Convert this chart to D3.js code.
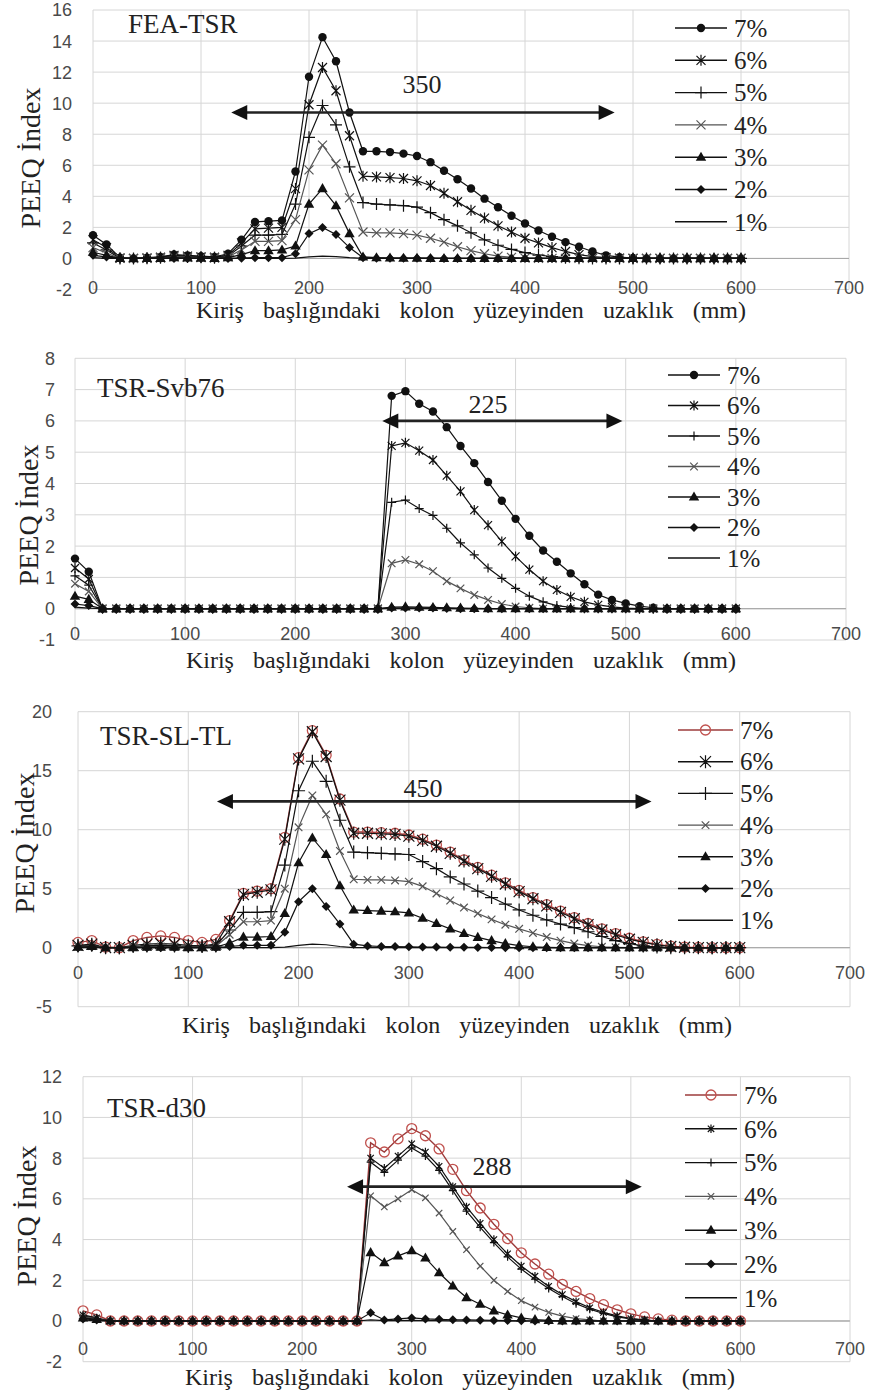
<!DOCTYPE html>
<html><head><meta charset="utf-8">
<script src="https://cdn.jsdelivr.net/npm/d3@7"></script>
<style>body{margin:0;background:#fff}svg{display:block}</style>
</head><body>
<svg id="chart" width="873" height="1396"></svg>
<script>
// ---------- DATA ----------
const distance = [0,12.5,25,37.5,50,62.5,75,87.5,100,112.5,125,137.5,150,162.5,175,187.5,200,212.5,225,237.5,250,262.5,275,287.5,300,312.5,325,337.5,350,362.5,375,387.5,400,412.5,425,437.5,450,462.5,475,487.5,500,512.5,525,537.5,550,562.5,575,587.5,600];
const seriesNames = ["7%","6%","5%","4%","3%","2%","1%"];
const xTickValues = [0,100,200,300,400,500,600,700];
const yTicksFea = [-2,0,2,4,6,8,10,12,14,16];
const yTicksSvb = [-1,0,1,2,3,4,5,6,7,8];
const yTicksSl = [-5,0,5,10,15,20];
const yTicksD30 = [-2,0,2,4,6,8,10,12];
const panelTitles = ["FEA-TSR","TSR-Svb76","TSR-SL-TL","TSR-d30"];
const spanLabels = ["350","225","450","288"];
const spanStart = [128,279,126,241];
const spanEnd = [483,497,520,510];
const spanLevel = [9.4,6.0,12.4,6.6];
const xAxisTitle = "Kiriş başlığındaki kolon yüzeyinden uzaklık (mm)";
const yAxisTitle = "PEEQ İndex";

// FEA-TSR
const feaTsr7 = [1.5,0.9,0.05,0,0.05,0.1,0.25,0.2,0.15,0.1,0.3, 1.2,2.35,2.4,2.45,5.6, 11.7,14.25,12.7,9.4,6.9, 6.9,6.85,6.75,6.6,6.2, 5.65,5.1,4.5,3.85,3.3, 2.75,2.25,1.8,1.4,1.05, 0.75,0.45,0.2,0.08,0.03, 0,0,0,0,0,0,0,0];
const feaTsr6 = [1.2,0.7,0.03,0,0.03,0.08,0.2,0.15,0.1,0.08,0.2, 1.0,1.9,1.95,2.0,4.5, 9.9,12.3,10.8,7.9,5.3, 5.25,5.2,5.15,5.0,4.7, 4.2,3.65,3.1,2.6,2.1, 1.7,1.3,1.0,0.7,0.45, 0.25,0.12,0.05,0.02,0, 0,0,0,0,0,0,0,0];
const feaTsr5 = [1.0,0.55,0,0,0.02,0.05,0.15,0.1,0.08,0.05,0.15, 0.8,1.5,1.5,1.55,3.5, 7.8,9.85,8.6,5.9,3.6, 3.5,3.45,3.4,3.3,2.95, 2.5,2.1,1.65,1.2,0.85, 0.58,0.38,0.22,0.12,0.05, 0.02,0,0,0,0, 0,0,0,0,0,0,0,0];
const feaTsr4 = [0.7,0.35,0,0,0,0.03,0.1,0.08,0.05,0.03,0.1, 0.55,1.1,1.1,1.15,2.5, 5.7,7.3,6.1,3.9,1.7, 1.65,1.65,1.6,1.5,1.3, 1.05,0.75,0.5,0.3,0.15, 0.07,0.02,0,0,0, 0,0,0,0,0, 0,0,0,0,0,0,0,0];
const feaTsr3 = [0.4,0.2,0,0,0,0,0.05,0.03,0.02,0,0.05, 0.25,0.5,0.5,0.55,0.8, 3.5,4.5,3.4,1.6,0.1, 0.05,0.03,0.02,0.02,0, 0,0,0,0,0, 0,0,0,0,0, 0,0,0,0,0, 0,0,0,0,0,0,0,0];
const feaTsr2 = [0.2,0.1,0,0,0,0,0,0,0,0,0, 0.02,0.05,0.05,0.05,0.3, 1.6,2.0,1.55,0.7,0.05, 0.02,0.02,0.02,0.02,0.02, 0,0,0,0,0, 0,0,0,0,0, 0,0,0,0,0, 0,0,0,0,0,0,0,0];
const feaTsr1 = [0.05,0,0,0,0,0,0,0,0,0,0, 0,0,0,0,0.02, 0.1,0.15,0.12,0.05,0, 0,0,0,0,0, 0,0,0,0,0, 0,0,0,0,0, 0,0,0,0,0, 0,0,0,0,0,0,0,0];

// TSR-Svb76
const svb76_7 = [1.6,1.18,0,0,0,0,0,0,0,0,0, 0,0,0,0,0, 0,0,0,0,0, 0,0,6.8,6.95,6.55, 6.3,5.8,5.2,4.65,4.05, 3.45,2.87,2.33,1.86,1.5, 1.13,0.78,0.45,0.28,0.17, 0.08,0.03,0,0,0,0,0,0];
const svb76_6 = [1.3,0.95,0,0,0,0,0,0,0,0,0, 0,0,0,0,0, 0,0,0,0,0, 0,0,5.2,5.3,5.05, 4.75,4.25,3.75,3.15,2.67, 2.15,1.67,1.25,0.88,0.6, 0.38,0.22,0.12,0.06,0.02, 0,0,0,0,0,0,0,0];
const svb76_5 = [1.05,0.75,0,0,0,0,0,0,0,0,0, 0,0,0,0,0, 0,0,0,0,0, 0,0,3.4,3.47,3.2, 2.98,2.57,2.1,1.72,1.3, 0.97,0.65,0.4,0.22,0.1, 0.04,0,0,0,0, 0,0,0,0,0,0,0,0];
const svb76_4 = [0.8,0.55,0,0,0,0,0,0,0,0,0, 0,0,0,0,0, 0,0,0,0,0, 0,0,1.45,1.56,1.42, 1.2,0.88,0.65,0.44,0.28, 0.15,0.07,0.03,0,0, 0,0,0,0,0, 0,0,0,0,0,0,0,0];
const svb76_3 = [0.4,0.3,0,0,0,0,0,0,0,0,0, 0,0,0,0,0, 0,0,0,0,0, 0,0,0.05,0.06,0.05, 0.04,0.03,0.02,0.01,0, 0,0,0,0,0, 0,0,0,0,0, 0,0,0,0,0,0,0,0];
const svb76_2 = [0.15,0.1,0,0,0,0,0,0,0,0,0, 0,0,0,0,0, 0,0,0,0,0, 0,0,0.02,0.02,0.02, 0.02,0.01,0,0,0, 0,0,0,0,0, 0,0,0,0,0, 0,0,0,0,0,0,0,0];
const svb76_1 = [0.05,0.02,0,0,0,0,0,0,0,0,0, 0,0,0,0,0, 0,0,0,0,0, 0,0,0,0,0, 0,0,0,0,0, 0,0,0,0,0, 0,0,0,0,0, 0,0,0,0,0,0,0,0];

// TSR-SL-TL
const slTl7 = [0.45,0.6,0.05,0,0.6,0.87,1.0,0.87,0.6,0.45,0.7, 2.3,4.6,4.8,5.0,9.35, 16.1,18.4,16.3,12.6,9.8, 9.8,9.75,9.7,9.55,9.2, 8.7,8.1,7.45,6.8,6.15, 5.5,4.85,4.25,3.65,3.1, 2.55,2.05,1.6,1.2,0.8, 0.5,0.28,0.13,0.05,0.02,0,0,0];
const slTl6 = [0.2,0.3,0.02,0,0.2,0.3,0.35,0.3,0.2,0.15,0.3, 2.2,4.5,4.7,4.9,9.2, 16.0,18.3,16.2,12.5,9.7, 9.7,9.65,9.6,9.45,9.1, 8.6,8.0,7.35,6.7,6.05, 5.4,4.75,4.15,3.55,3.0, 2.45,1.95,1.5,1.1,0.72, 0.45,0.24,0.1,0.04,0.01,0,0,0];
const slTl5 = [0.15,0.2,0,0,0.1,0.15,0.2,0.15,0.1,0.1,0.15, 1.5,3.0,3.0,3.05,7.0, 13.3,15.8,14.1,10.8,8.1, 8.05,8.0,7.95,7.9,7.3, 6.7,6.0,5.4,4.8,4.25, 3.7,3.2,2.75,2.35,2.0, 1.7,1.35,0.95,0.6,0.35, 0.15,0.05,0,0,0,0,0,0];
const slTl4 = [0.1,0.15,0,0,0.05,0.1,0.1,0.1,0.05,0.05,0.1, 1.1,2.2,2.2,2.3,5.0, 10.2,12.9,11.3,8.2,5.8, 5.75,5.75,5.7,5.6,5.2, 4.6,4.0,3.4,2.9,2.4, 1.95,1.6,1.25,0.9,0.6, 0.35,0.18,0.08,0.03,0, 0,0,0,0,0,0,0,0];
const slTl3 = [0.05,0.1,0,0,0,0.05,0.05,0.05,0,0,0.05, 0.4,0.9,0.9,0.95,2.9, 7.2,9.3,7.9,5.25,3.2, 3.15,3.1,3.05,2.95,2.5, 2.05,1.6,1.2,0.88,0.6, 0.35,0.18,0.08,0.03,0, 0,0,0,0,0, 0,0,0,0,0,0,0,0];
const slTl2 = [0,0.05,0,0,0,0,0,0,0,0,0, 0.1,0.2,0.2,0.2,1.3, 3.9,5.0,3.5,2.0,0.3, 0.15,0.1,0.1,0.08,0.06, 0.05,0.04,0.03,0.02,0.01, 0,0,0,0,0, 0,0,0,0,0, 0,0,0,0,0,0,0,0];
const slTl1 = [0,0,0,0,0,0,0,0,0,0,0, 0,0,0,0,0.05, 0.2,0.3,0.25,0.1,0, 0,0,0,0,0, 0,0,0,0,0, 0,0,0,0,0, 0,0,0,0,0, 0,0,0,0,0,0,0,0];

// TSR-d30
const d30_7 = [0.5,0.3,0,0,0,0,0,0,0,0,0, 0,0,0,0,0, 0,0,0,0,0, 8.75,8.3,8.95,9.45,9.1, 8.45,7.45,6.4,5.55,4.75, 4.05,3.35,2.8,2.3,1.8, 1.45,1.1,0.8,0.55,0.35, 0.2,0.1,0.04,0,0,0,0,0];
const d30_6 = [0.3,0.15,0,0,0,0,0,0,0,0,0, 0,0,0,0,0, 0,0,0,0,0, 8.0,7.5,8.1,8.7,8.3, 7.6,6.6,5.6,4.8,4.0, 3.3,2.7,2.2,1.7,1.3, 0.95,0.65,0.42,0.25,0.12, 0.05,0,0,0,0,0,0,0];
const d30_5 = [0.25,0.12,0,0,0,0,0,0,0,0,0, 0,0,0,0,0, 0,0,0,0,0, 7.8,7.3,7.9,8.5,8.1, 7.4,6.4,5.4,4.6,3.85, 3.15,2.55,2.05,1.6,1.2, 0.85,0.58,0.37,0.2,0.1, 0.04,0,0,0,0,0,0,0];
const d30_4 = [0.2,0.1,0,0,0,0,0,0,0,0,0, 0,0,0,0,0, 0,0,0,0,0, 6.15,5.6,6.0,6.45,6.05, 5.3,4.4,3.5,2.7,2.0, 1.45,1.0,0.68,0.42,0.24, 0.12,0.05,0,0,0, 0,0,0,0,0,0,0,0];
const d30_3 = [0.15,0.08,0,0,0,0,0,0,0,0,0, 0,0,0,0,0, 0,0,0,0,0, 3.36,2.87,3.2,3.45,3.1, 2.37,1.72,1.15,0.82,0.5, 0.3,0.15,0.07,0.03,0, 0,0,0,0,0, 0,0,0,0,0,0,0,0];
const d30_2 = [0.1,0.05,0,0,0,0,0,0,0,0,0, 0,0,0,0,0, 0,0,0,0,0, 0.4,0.05,0.1,0.15,0.1, 0.08,0.06,0.05,0.04,0.03, 0.02,0.01,0,0,0, 0,0,0,0,0, 0,0,0,0,0,0,0,0];
const d30_1 = [0.05,0,0,0,0,0,0,0,0,0,0, 0,0,0,0,0, 0,0,0,0,0, 0.05,0.02,0.02,0.03,0.02, 0.02,0.01,0,0,0, 0,0,0,0,0, 0,0,0,0,0, 0,0,0,0,0,0,0,0];

const panelSeries = [
  [feaTsr7,feaTsr6,feaTsr5,feaTsr4,feaTsr3,feaTsr2,feaTsr1],
  [svb76_7,svb76_6,svb76_5,svb76_4,svb76_3,svb76_2,svb76_1],
  [slTl7,slTl6,slTl5,slTl4,slTl3,slTl2,slTl1],
  [d30_7,d30_6,d30_5,d30_4,d30_3,d30_2,d30_1]
];
const panelYTicks = [yTicksFea, yTicksSvb, yTicksSl, yTicksD30];

// ---------- LAYOUT ----------
const layout = [
  {x0:93,x1:849,yTop:10,yBot:289.5,titleX:128,titleY:33,tickY:288,yLabR:72,yTitX:30,yTitY:158,xTitX:471,xTitY:318,legX:675,legY:28,legDy:32.3,legW:52,lblX:422,lblY:93,red:false,ms:{asterisk:4.5,plus:6,x:4.5}},
  {x0:75,x1:846,yTop:358.3,yBot:640,titleX:97,titleY:397,tickY:634,yLabR:55,yTitX:28,yTitY:515,xTitX:461,xTitY:668,legX:668,legY:375,legDy:30.5,legW:52,lblX:488,lblY:413,red:false,ms:{asterisk:4,plus:4.5,x:3.8}},
  {x0:78,x1:850,yTop:711.7,yBot:1006.7,titleX:100,titleY:745,tickY:973,yLabR:52,yTitX:24,yTitY:843,xTitX:457,xTitY:1033,legX:678,legY:730,legDy:31.7,legW:55,lblX:423,lblY:797,red:true,ms:{asterisk:5.5,plus:6.5,x:3.8}},
  {x0:83,x1:850,yTop:1076.7,yBot:1361.7,titleX:107,titleY:1117,tickY:1349,yLabR:62,yTitX:26,yTitY:1216,xTitX:460,xTitY:1385,legX:685,legY:1095,legDy:33.8,legW:52,lblX:492,lblY:1175,red:true,ms:{asterisk:3.2,plus:4,x:3.2}}
];

const SERIF = "'Liberation Serif','Times New Roman',serif";
const SANS = "'Liberation Sans',Arial,sans-serif";
const svg = d3.select("#chart");
svg.append("rect").attr("width",873).attr("height",1396).attr("fill","#fff");

const markerKind = ["circle","asterisk","plus","x","triangle","diamond","none"];
function markerPath(kind, ms){
  switch(kind){
    case "asterisk": {const r=ms.asterisk; return `M${-r},${-r}L${r},${r}M${-r},${r}L${r},${-r}M0,${-r-1}L0,${r+1}`;}
    case "plus": {const r=ms.plus; return `M${-r},0L${r},0M0,${-r}L0,${r}`;}
    case "x": {const r=ms.x; return `M${-r},${-r}L${r},${r}M${-r},${r}L${r},${-r}`;}
    case "triangle": {const r=5.5; return `M0,${-r}L${r*0.95},${r*0.65}L${-r*0.95},${r*0.65}Z`;}
    case "diamond": {const r=4.5; return `M0,${-r}L${r},0L0,${r}L${-r},0Z`;}
  }
  return null;
}
function lineColor(si, red){ if(si===0 && red) return "#9c3b3b"; if(si===3) return "#555"; return "#111"; }
function drawMarker(g, kind, si, L, x, y){
  if(kind==="none") return;
  if(kind==="circle"){
    if(L.red) g.append("circle").attr("cx",x).attr("cy",y).attr("r",5).attr("fill","none").attr("stroke","#c0504d").attr("stroke-width",1.3);
    else g.append("circle").attr("cx",x).attr("cy",y).attr("r",4.2).attr("fill","#111");
    return;
  }
  const p = g.append("path").attr("d",markerPath(kind, L.ms)).attr("transform",`translate(${x},${y})`);
  if(kind==="triangle"||kind==="diamond") p.attr("fill","#111").attr("stroke","none");
  else p.attr("fill","none").attr("stroke", si===3 ? "#555" : "#111").attr("stroke-width",1.2);
}

layout.forEach((L, pi) => {
  const yT = panelYTicks[pi];
  const x = d3.scaleLinear().domain([0,700]).range([L.x0, L.x1]);
  const y = d3.scaleLinear().domain([d3.min(yT), d3.max(yT)]).range([L.yBot, L.yTop]);
  const g = svg.append("g");

  // gridlines
  g.selectAll(null).data(yT).enter().append("line")
    .attr("x1",L.x0).attr("x2",L.x1).attr("y1",d=>y(d)).attr("y2",d=>y(d))
    .attr("stroke", d => d===0 ? "#a8a8a8" : "#d6d6d6").attr("stroke-width",1);
  g.selectAll(null).data(xTickValues).enter().append("line")
    .attr("x1",d=>x(d)).attr("x2",d=>x(d)).attr("y1",L.yTop).attr("y2",L.yBot)
    .attr("stroke","#d6d6d6").attr("stroke-width",1);
  g.append("line").attr("x1",L.x0).attr("x2",L.x1).attr("y1",y(0)).attr("y2",y(0)).attr("stroke","#a8a8a8");

  // tick labels
  g.selectAll(null).data(yT).enter().append("text")
    .attr("x",L.yLabR).attr("y",d=>y(d)).attr("dy","0.36em").attr("text-anchor","end")
    .attr("font-family",SANS).attr("font-size",18).attr("fill","#4a4a4a").text(d=>d);
  g.selectAll(null).data(xTickValues).enter().append("text")
    .attr("x",d=>x(d)).attr("y",L.tickY).attr("dy","0.36em").attr("text-anchor","middle")
    .attr("font-family",SANS).attr("font-size",18).attr("fill","#4a4a4a").text(d=>d);

  // series (7% first, 1% last on top)
  const series = panelSeries[pi];
  series.forEach((vals, si) => {
    const pts = distance.map((d,i)=>[d, vals[i]]);
    const line = d3.line().x(d=>x(d[0])).y(d=>y(d[1]));
    g.append("path").attr("d",line(pts)).attr("fill","none")
      .attr("stroke",lineColor(si,L.red)).attr("stroke-width", si===0 && L.red ? 1.4 : 1.2);
    const mg = g.append("g");
    pts.forEach(p => drawMarker(mg, markerKind[si], si, L, x(p[0]), y(p[1])));
  });

  // span arrow
  const ay = y(spanLevel[pi]), ax1 = x(spanStart[pi]), ax2 = x(spanEnd[pi]);
  const hl = 16, hw = 7.5;
  g.append("line").attr("x1",ax1+hl-2).attr("x2",ax2-hl+2).attr("y1",ay).attr("y2",ay)
    .attr("stroke","#222").attr("stroke-width",2.6);
  g.append("path").attr("d",`M${ax1},${ay}L${ax1+hl},${ay-hw}L${ax1+hl},${ay+hw}Z`).attr("fill","#111");
  g.append("path").attr("d",`M${ax2},${ay}L${ax2-hl},${ay-hw}L${ax2-hl},${ay+hw}Z`).attr("fill","#111");
  g.append("text").attr("x",L.lblX).attr("y",L.lblY).attr("text-anchor","middle")
    .attr("font-family",SERIF).attr("font-size",26).attr("fill","#222").text(spanLabels[pi]);

  // panel title
  g.append("text").attr("x",L.titleX).attr("y",L.titleY).attr("font-family",SERIF)
    .attr("font-size",27).attr("fill","#222").text(panelTitles[pi]);

  // legend
  seriesNames.forEach((name, si) => {
    const ly = L.legY + si*L.legDy;
    g.append("line").attr("x1",L.legX).attr("x2",L.legX+L.legW).attr("y1",ly).attr("y2",ly)
      .attr("stroke",lineColor(si,L.red)).attr("stroke-width",1.4);
    drawMarker(g, markerKind[si], si, L, L.legX+L.legW/2, ly);
    g.append("text").attr("x",L.legX+L.legW+7).attr("y",ly).attr("dy","0.35em")
      .attr("font-family",SERIF).attr("font-size",25).attr("fill","#222").text(name);
  });

  // axis titles
  const xt = g.append("text").attr("x",L.xTitX).attr("y",L.xTitY).attr("text-anchor","middle")
    .attr("font-family",SERIF).attr("font-size",24).attr("fill","#222").text(xAxisTitle);
  const len = xt.node().getComputedTextLength();
  const target = 550;
  if (len < target) xt.attr("word-spacing", ((target-len)/5).toFixed(1));
  g.append("text").attr("transform",`translate(${L.yTitX},${L.yTitY}) rotate(-90)`)
    .attr("text-anchor","middle").attr("dy","0.35em")
    .attr("font-family",SERIF).attr("font-size",28).attr("fill","#222").text(yAxisTitle);
});
</script>
</body></html>
